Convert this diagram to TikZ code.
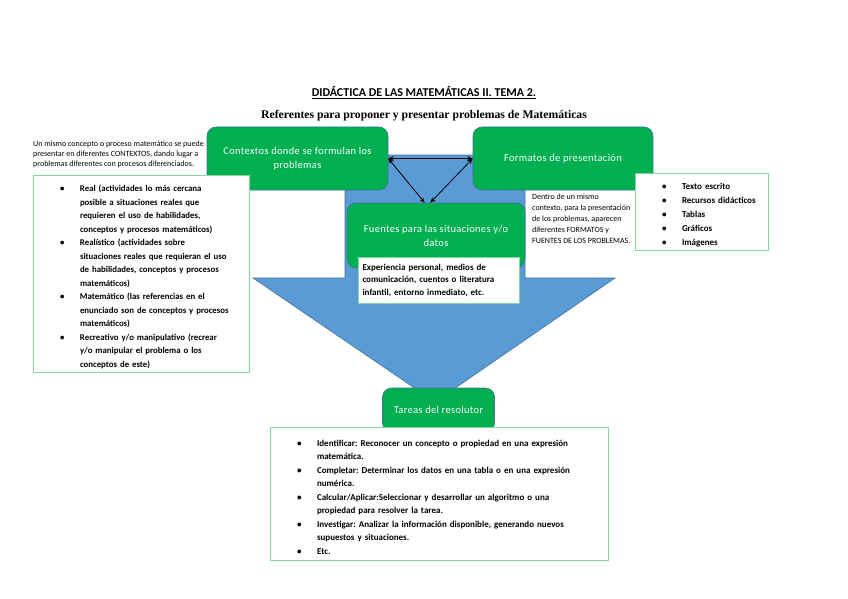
\documentclass[tikz,border=0pt]{standalone}
\usepackage{fontspec}
\setmainfont{Carlito}
\newfontfamily\titleserif{Liberation Serif}
\usepackage{tikz}
\usetikzlibrary{arrows.meta}
\usepackage{xcolor}
\definecolor{officegreen}{HTML}{00B050}
\definecolor{arrowblue}{HTML}{5B9BD5}
\definecolor{edgeblue}{HTML}{41719C}
\definecolor{mintline}{HTML}{84D8A0}
\frenchspacing
\newcommand{\bitem}[1]{\par\noindent\hangindent=43pt\hangafter=1\hspace*{23pt}\makebox[20pt][l]{\textbullet}#1\par}

\begin{document}
\begin{tikzpicture}[x=1pt, y=-1pt,
    greenbox/.style={draw=edgeblue, line width=0.6pt, fill=officegreen, rounded corners=9pt,
      text=white, align=center, font=\fontsize{10.5}{14}\selectfont\addfontfeature{LetterSpace=3}, inner sep=0pt},
    listbox/.style={draw=mintline, line width=1pt, fill=white, align=left, inner xsep=4pt,
      inner ysep=0pt, font=\fontsize{9}{13.5}\selectfont\bfseries},
    note/.style={align=left, inner sep=0pt, anchor=north west},
    dblarrow/.style={{Stealth[length=5.5pt,width=4.5pt]}-{Stealth[length=5.5pt,width=4.5pt]}, line width=0.8pt}]
    \useasboundingbox (0,0) rectangle (848,599);

    % Headings
    \node (title) at (424, 93) {\fontsize{12}{14}\selectfont\bfseries\underline{DIDÁCTICA DE LAS MATEMÁTICAS II. TEMA 2.}};
    \node (subtitle) at (424, 116) {\titleserif\fontsize{11.7}{14}\selectfont\bfseries Referentes para proponer y presentar problemas de Matemáticas};

    % Big arrow behind the boxes
    \draw[edgeblue, line width=0.6pt, fill=arrowblue] (345,155) -- (525,155) -- (525,278) -- (615,278)
      -- (435,402) -- (253,278) -- (345,278) -- cycle;

    % Green boxes
    \node[greenbox, minimum width=181, minimum height=63] (ctx) at (297.5, 158.5) {Contextos donde se formulan los\\problemas};
    \node[greenbox, minimum width=180, minimum height=63] (fmt) at (563, 158.5) {Formatos de presentación};
    \node[greenbox, minimum width=178, minimum height=65] (fue) at (436, 235.5) {Fuentes para las situaciones y/o\\datos};
    \node[greenbox, minimum width=112, minimum height=44] (tar) at (438.5, 410) {Tareas del resolutor};

    % Lists
    \node[listbox, text width=208, minimum height=197, font=\fontsize{8.8}{13.5}\selectfont\bfseries] (ctxlist) at (141, 273.5) {%
      \bitem{Real (actividades lo más cercana\newline posible a situaciones reales que\newline requieren el uso de habilidades,\newline conceptos y procesos matemáticos)}
      \bitem{Realístico (actividades sobre\newline situaciones reales que requieran el uso\newline de habilidades, conceptos y procesos\newline matemáticos)}
      \bitem{Matemático (las referencias en el\newline enunciado son de conceptos y procesos\newline matemáticos)}
      \bitem{Recreativo y/o manipulativo (recrear\newline y/o manipular el problema o los\newline conceptos de este)}};
    \node[listbox, text width=125, minimum height=77, font=\fontsize{9}{14}\selectfont\bfseries] (fmtlist) at (701.5, 211.5) {%
      \bitem{Texto escrito}
      \bitem{Recursos didácticos}
      \bitem{Tablas}
      \bitem{Gráficos}
      \bitem{Imágenes}};
    \node[listbox, text width=153, minimum height=46, font=\fontsize{9}{12.5}\selectfont\bfseries] (fuelist) at (439, 280) {%
      Experiencia personal, medios de\\comunicación, cuentos o literatura\\infantil, entorno inmediato, etc.};
    \node[listbox, text width=330, minimum height=133] (tarlist) at (439, 493.5) {%
      \bitem{Identificar: Reconocer un concepto o propiedad en una expresión\newline matemática.}
      \bitem{Completar: Determinar los datos en una tabla o en una expresión\newline numérica.}
      \bitem{Calcular/Aplicar:Seleccionar y desarrollar un algoritmo o una\newline propiedad para resolver la tarea.}
      \bitem{Investigar: Analizar la información disponible, generando nuevos\newline supuestos y situaciones.}
      \bitem{Etc.}};

    % Side notes
    \node[note, font=\fontsize{8}{10}\selectfont] (ctxnote) at (33, 141) {Un mismo concepto o proceso matemático se puede\\presentar en diferentes CONTEXTOS, dando lugar a\\problemas diferentes con procesos diferenciados.};
    \node[note, font=\fontsize{8}{11}\selectfont] (fmtnote) at (532, 194) {Dentro de un mismo\\contexto, para la presentación\\de los problemas, aparecen\\diferentes FORMATOS y\\FUENTES DE LOS PROBLEMAS.};

    % Links between the three referents
    \draw[dblarrow] (ctx.east) -- (fmt.west);
    \draw[dblarrow] (ctx.east) -- (fue.109);
    \draw[dblarrow] (fmt.west) -- (fue.100);
\end{tikzpicture}
\end{document}
